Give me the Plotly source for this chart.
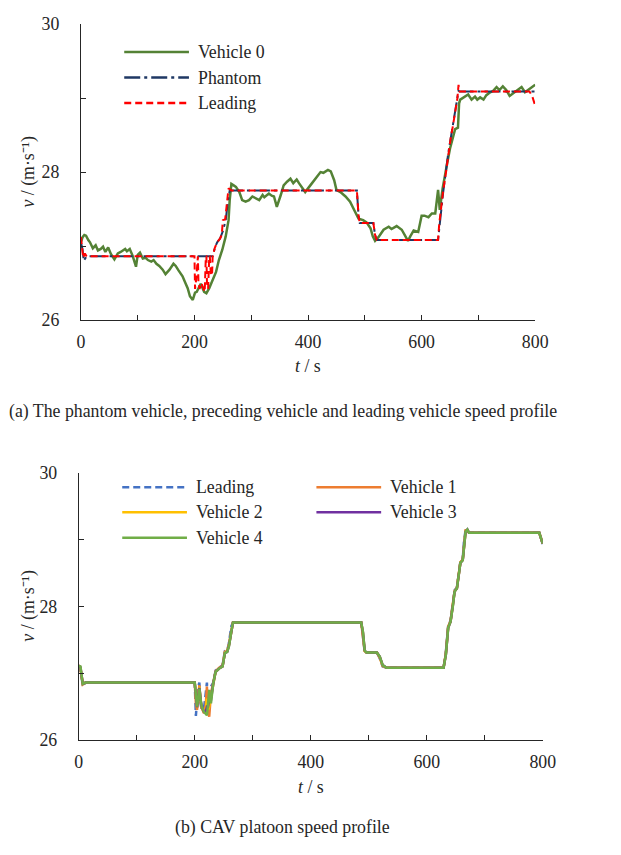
import plotly.graph_objects as go

# ---------- (a) phantom / preceding / leading ----------
t_v0 = [0, 3, 6, 9, 13, 16, 21, 26, 30, 35, 39, 43, 48, 53, 59, 65, 70, 74, 78, 81,
        86, 91, 97, 100, 104, 109, 114, 118, 124, 128, 133, 138, 144, 149, 156, 163,
        167, 171, 179, 184, 188, 192, 197, 201, 204, 211, 217, 221, 226, 232, 238,
        243, 249, 255, 258, 260, 262, 265, 269, 273, 279, 284, 290, 296, 302, 308,
        314, 320, 323, 331, 336, 340, 345, 352, 357, 363, 369, 374, 380, 384, 388,
        395, 404, 413, 422, 427, 435, 440, 446, 450, 457, 466, 474, 483, 489, 497,
        503, 510, 514, 518, 524, 533, 542, 547, 556, 565, 571, 576, 580, 586, 594,
        600, 605, 612, 618, 624, 629, 632, 637, 641, 645, 650, 655, 659, 664, 666,
        668, 676, 682, 688, 694, 698, 703, 709, 714, 719, 726, 732, 737, 743, 749,
        755, 762, 770, 776, 782, 788, 794, 800]
v_v0 = [27.05, 27.12, 27.15, 27.14, 27.08, 27.05, 26.97, 27.01, 26.94, 26.96, 26.99,
        26.92, 26.98, 26.89, 26.82, 26.90, 26.92, 26.94, 26.96, 26.93, 26.96, 26.87,
        26.72, 26.88, 26.91, 26.83, 26.84, 26.81, 26.79, 26.81, 26.76, 26.73, 26.68,
        26.62, 26.68, 26.76, 26.73, 26.68, 26.59, 26.50, 26.43, 26.32, 26.27, 26.37,
        26.38, 26.49, 26.38, 26.36, 26.43, 26.54, 26.65, 26.81, 26.95, 27.13, 27.25,
        27.35, 27.62, 27.84, 27.82, 27.80, 27.73, 27.62, 27.60, 27.62, 27.67, 27.65,
        27.62, 27.69, 27.66, 27.71, 27.68, 27.67, 27.53, 27.69, 27.82, 27.87, 27.91,
        27.85, 27.90, 27.85, 27.81, 27.73, 27.82, 27.91, 28.00, 27.99, 28.03, 28.01,
        27.89, 27.76, 27.73, 27.67, 27.60, 27.46, 27.37, 27.35, 27.32, 27.24, 27.13,
        27.07, 27.12, 27.22, 27.26, 27.23, 27.27, 27.22, 27.14, 27.07, 27.13, 27.21,
        27.19, 27.41, 27.41, 27.39, 27.44, 27.44, 27.76, 27.49, 27.78, 27.98, 28.12,
        28.32, 28.48, 28.58, 28.60, 28.93, 28.98, 29.02, 29.05, 28.98, 29.02, 28.98,
        29.01, 28.98, 29.04, 29.07, 29.10, 29.15, 29.11, 29.16, 29.11, 29.03, 29.07,
        29.11, 29.15, 29.08, 29.11, 29.15, 29.18]

t_phantom = [0, 3, 5, 10, 232, 236, 240, 245, 250, 255, 258, 262, 265, 486, 489, 491,
             515, 518, 521, 629, 632, 638, 647, 655, 662, 665, 667, 800]
v_phantom = [27.05, 26.95, 26.80, 26.86, 26.86, 26.98, 27.05, 27.10, 27.20, 27.35,
             27.55, 27.75, 27.75, 27.75, 27.40, 27.31, 27.31, 27.15, 27.08, 27.08,
             27.30, 27.73, 28.26, 28.61, 28.97, 29.10, 29.09, 29.09]

t_lead_a = [0, 2, 4, 7, 10, 200, 201, 203, 205, 206, 207, 209, 212, 215, 218, 220,
            221, 222, 224, 226, 227, 229, 231, 232, 236, 240, 245, 248, 250, 254, 257,
            260, 265, 486, 489, 491, 515, 518, 521, 629, 631, 634, 638, 643, 647, 651,
            655, 660, 663, 665, 667, 790, 795, 800]
v_lead_a = [27.12, 27.00, 26.84, 26.90, 26.86, 26.86, 26.42, 26.55, 26.86, 26.86, 26.50,
            26.42, 26.50, 26.45, 26.38, 26.86, 26.86, 26.50, 26.42, 26.86, 26.86, 26.60,
            26.62, 26.86, 26.98, 27.05, 27.10, 27.15, 27.35, 27.36, 27.60, 27.78, 27.75,
            27.75, 27.40, 27.31, 27.31, 27.15, 27.08, 27.08, 27.30, 27.50, 27.75, 28.00,
            28.25, 28.45, 28.62, 28.85, 29.00, 29.18, 29.09, 29.09, 29.02, 28.90]

# ---------- (b) CAV platoon ----------
t_b = [0, 3, 7, 12,
       200, 202, 204, 206, 208, 210, 212, 216, 219, 221, 223, 225, 228, 232, 236, 242,
       248, 252, 256, 259, 263, 266,
       487, 490, 493, 496, 514, 519, 524, 531,
       629, 633, 637, 641, 645, 648, 652, 656, 658, 662, 664, 667, 670, 673,
       794, 797, 800]
v_lead_b = [27.12, 27.05, 26.82, 26.86,
            26.86, 26.36, 26.60, 26.80, 26.86, 26.55, 26.45, 26.48, 26.70, 26.86, 26.50,
            26.45, 26.80, 26.86, 27.04, 27.08, 27.12, 27.33, 27.34, 27.45, 27.70, 27.76,
            27.76, 27.55, 27.32, 27.31, 27.31, 27.22, 27.10, 27.08,
            27.08, 27.32, 27.72, 27.78, 28.05, 28.24, 28.28, 28.55, 28.67, 28.70, 28.95,
            29.15, 29.13, 29.10,
            29.10, 29.00, 28.93]
v_veh1 = [27.12, 27.07, 26.83, 26.86,
          26.86, 26.55, 26.45, 26.70, 26.82, 26.58, 26.48, 26.40, 26.52, 26.80, 26.40,
          26.35, 26.70, 26.86, 27.03, 27.08, 27.11, 27.32, 27.33, 27.43, 27.66, 27.76,
          27.76, 27.58, 27.33, 27.31, 27.31, 27.23, 27.11, 27.08,
          27.08, 27.30, 27.70, 27.78, 28.03, 28.23, 28.28, 28.53, 28.66, 28.70, 28.93,
          29.14, 29.14, 29.10,
          29.10, 29.01, 28.94]
v_veh2 = [27.11, 27.08, 26.84, 26.86,
          26.86, 26.62, 26.48, 26.66, 26.80, 26.60, 26.49, 26.41, 26.46, 26.62, 26.45,
          26.50, 26.65, 26.86, 27.02, 27.07, 27.10, 27.31, 27.33, 27.42, 27.64, 27.76,
          27.76, 27.60, 27.33, 27.31, 27.31, 27.24, 27.11, 27.08,
          27.08, 27.29, 27.69, 27.77, 28.02, 28.22, 28.27, 28.52, 28.66, 28.69, 28.91,
          29.13, 29.14, 29.10,
          29.10, 29.02, 28.94]
v_veh3 = [27.11, 27.09, 26.84, 26.86,
          26.86, 26.66, 26.49, 26.64, 26.78, 26.61, 26.50, 26.42, 26.42, 26.50, 26.50,
          26.62, 26.60, 26.85, 27.02, 27.07, 27.10, 27.30, 27.32, 27.41, 27.63, 27.76,
          27.76, 27.61, 27.34, 27.31, 27.31, 27.25, 27.12, 27.08,
          27.08, 27.28, 27.68, 27.77, 28.01, 28.22, 28.27, 28.51, 28.65, 28.69, 28.90,
          29.12, 29.15, 29.10,
          29.10, 29.02, 28.94]
v_veh4 = [27.11, 27.10, 26.84, 26.86,
          26.86, 26.70, 26.50, 26.62, 26.77, 26.62, 26.50, 26.42, 26.39, 26.37, 26.55,
          26.75, 26.55, 26.85, 27.02, 27.07, 27.10, 27.30, 27.32, 27.40, 27.62, 27.76,
          27.76, 27.62, 27.34, 27.31, 27.31, 27.25, 27.12, 27.08,
          27.08, 27.28, 27.68, 27.77, 28.00, 28.22, 28.27, 28.50, 28.65, 28.69, 28.89,
          29.12, 29.15, 29.10,
          29.10, 29.02, 28.94]

W, H = 605, 839
# screen position = S * figure position + (OX, OY) as measured on the rendered page
S, OX, OY = 0.976, 10.3, 18.1
FONT = "Liberation Serif"
FS = 17.8
INK = "#262626"


def px(x):
    return (x - OX) / S / W


def py(y):
    return 1 - (y - OY) / S / H


fig = go.Figure()

# (a)
fig.add_trace(go.Scatter(x=t_v0, y=v_v0, mode="lines", name="Vehicle 0",
                         line=dict(color="#548235", width=2.5), xaxis="x", yaxis="y"))
fig.add_trace(go.Scatter(x=t_phantom, y=v_phantom, mode="lines", name="Phantom",
                         line=dict(color="#1F3864", width=2, dash="16px,4px,3px,4px"),
                         xaxis="x", yaxis="y"))
fig.add_trace(go.Scatter(x=t_lead_a, y=v_lead_a, mode="lines", name="Leading",
                         line=dict(color="#FF0000", width=2, dash="7px,4px"),
                         xaxis="x", yaxis="y"))

# (b)
b_series = [
    ("Leading", v_lead_b, "#4472C4", "7px,4px"),
    ("Vehicle 1", v_veh1, "#ED7D31", "solid"),
    ("Vehicle 2", v_veh2, "#FFC000", "solid"),
    ("Vehicle 3", v_veh3, "#7030A0", "solid"),
    ("Vehicle 4", v_veh4, "#70AD47", "solid"),
]
for name, vals, col, dash in b_series:
    fig.add_trace(go.Scatter(x=t_b, y=vals, mode="lines", name=name,
                             line=dict(color=col, width=2.5, dash=dash),
                             xaxis="x2", yaxis="y2"))

axis_style = dict(showline=True, linecolor=INK, linewidth=1, ticks="inside", ticklen=5,
                  tickcolor=INK, showgrid=False, zeroline=False, fixedrange=True,
                  tickfont=dict(family=FONT, size=FS, color=INK))
x_style = dict(range=[0, 800], tick0=0, dtick=200, ticklabelstandoff=6,
               minor=dict(dtick=100, ticks="inside", ticklen=5, tickcolor=INK),
               **axis_style)
y_style = dict(range=[26, 30], tick0=26, dtick=2, ticklabelstandoff=17,
               minor=dict(dtick=1, ticks="inside", ticklen=5, tickcolor=INK),
               **axis_style)

fig.update_layout(
    width=W, height=H,
    margin=dict(l=0, r=0, t=0, b=0),
    paper_bgcolor="white", plot_bgcolor="white",
    showlegend=False,
    xaxis=dict(domain=[px(79.5), px(535.7)], anchor="y", **x_style),
    yaxis=dict(domain=[py(320), py(24.3)], anchor="x", **y_style),
    xaxis2=dict(domain=[px(77.3), px(543.3)], anchor="y2", **x_style),
    yaxis2=dict(domain=[py(740), py(472.7)], anchor="x2", **y_style),
)

txt = dict(family=FONT, size=FS, color=INK)
ytitle = "<i>v</i> / (m·s⁻¹)"
annos = [
    dict(x=px(27), y=py(172), text=ytitle, textangle=-90),
    dict(x=px(307.6), y=py(366), text="<i>t</i> / s"),
    dict(x=px(282), y=py(412),
         text="(a) The phantom vehicle, preceding vehicle and leading vehicle speed profile"),
    dict(x=px(27), y=py(606), text=ytitle, textangle=-90),
    dict(x=px(310.3), y=py(787), text="<i>t</i> / s"),
    dict(x=px(282), y=py(827), text="(b) CAV platoon speed profile"),
]
for a in annos:
    fig.add_annotation(xref="paper", yref="paper", showarrow=False, font=txt,
                       xanchor="center", yanchor="middle", **a)

# hand-placed legends (long line samples as in the original)
legend_a = [("Vehicle 0", "#548235", "solid", 123, 52),
            ("Phantom", "#1F3864", "16px,4px,3px,4px", 123, 77.7),
            ("Leading", "#FF0000", "7px,4px", 123, 103)]
legend_b = [("Leading", "#4472C4", "7px,4px", 121, 487.3),
            ("Vehicle 1", "#ED7D31", "solid", 316, 487.3),
            ("Vehicle 2", "#FFC000", "solid", 121, 512.3),
            ("Vehicle 3", "#7030A0", "solid", 316, 512.3),
            ("Vehicle 4", "#70AD47", "solid", 121, 537.7)]
for name, col, dash, x0, y0 in legend_a + legend_b:
    fig.add_shape(type="line", xref="paper", yref="paper",
                  x0=px(x0), x1=px(x0 + 65), y0=py(y0), y1=py(y0),
                  line=dict(color=col, width=2.5, dash=dash))
    fig.add_annotation(xref="paper", yref="paper", x=px(x0 + 72), y=py(y0),
                       text=name, showarrow=False, font=txt,
                       xanchor="left", yanchor="middle")

fig.write_html("out.html")
